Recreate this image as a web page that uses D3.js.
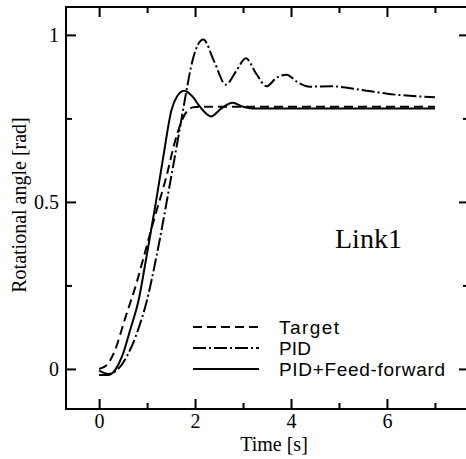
<!DOCTYPE html>
<html>
<head>
<meta charset="utf-8">
<script src="https://cdn.jsdelivr.net/npm/d3@7"></script>
<style>
  body { margin: 0; background: #fff; overflow: hidden; }
  svg { display: block; }
  .axis text { font-family: "Liberation Serif", "Times New Roman", serif; font-size: 20px; fill: #000; }
  .axis line { stroke: #000; stroke-width: 2px; }
  .axis path { display: none; }
  .title { font-family: "Liberation Serif", "Times New Roman", serif; font-size: 20px; fill: #000; }
  .legend text { font-family: "Liberation Sans", Arial, sans-serif; font-size: 19px; fill: #000; }
</style>
</head>
<body>
<div id="chart"></div>
<script>
  // time [s], rotational angle [rad]
  const targetT = [0, 0.15, 0.3, 0.55, 0.79, 0.93, 1.13, 1.41, 1.58, 1.8, 1.95, 2.1, 7.0];
  const targetY = [0, 0.01, 0.045, 0.155, 0.262, 0.335, 0.44, 0.58, 0.68, 0.765, 0.783, 0.785, 0.785];

  const pidT = [0, 0.2, 0.4, 0.58, 0.79, 1.0, 1.2, 1.48, 1.69, 1.8, 1.95, 2.17, 2.4, 2.64, 2.85, 3.06, 3.27, 3.49, 3.7, 3.91, 4.12, 4.4, 4.85, 5.44, 6.0, 7.0];
  const pidY = [-0.005, -0.015, 0.0, 0.038, 0.108, 0.207, 0.34, 0.557, 0.726, 0.816, 0.925, 0.986, 0.92, 0.851, 0.89, 0.93, 0.885, 0.846, 0.872, 0.881, 0.86, 0.845, 0.846, 0.836, 0.824, 0.813];

  const ffT = [0, 0.2, 0.35, 0.48, 0.65, 0.83, 0.965, 1.17, 1.34, 1.51, 1.62, 1.77, 1.95, 2.1, 2.33, 2.55, 2.78, 3.0, 3.2, 7.0];
  const ffY = [-0.018, -0.018, 0.0, 0.038, 0.118, 0.21, 0.317, 0.487, 0.637, 0.776, 0.815, 0.833, 0.815, 0.785, 0.756, 0.78, 0.797, 0.785, 0.78, 0.78];

  const seriesNames = ["Target", "PID", "PID+Feed-forward"];
  const xMajor = [0, 2, 4, 6];
  const xMinor = [1, 3, 5, 7];
  const yMajor = [0, 0.5, 1];
  const yMinor = [0.25, 0.75];

  const margin = {top: 7, right: -3, bottom: 50, left: 66};
  const width = 466 - margin.left - margin.right;
  const height = 459 - margin.top - margin.bottom;

  const svg = d3.select("#chart").append("svg")
    .attr("width", 466)
    .attr("height", 459);

  const g = svg.append("g")
    .attr("transform", "translate(" + margin.left + "," + margin.top + ")");

  const x = d3.scaleLinear().domain([-0.69, 7.71]).range([0, width]);
  const y = d3.scaleLinear().domain([-0.12, 1.0835]).range([height, 0]);

  function axis(gen, dx, dy) {
    return g.append("g").attr("class", "axis")
      .attr("transform", "translate(" + dx + "," + dy + ")")
      .call(gen)
      .attr("font-family", null)
      .attr("font-size", null);
  }

  // ticks point inward on all four sides
  axis(d3.axisBottom(x).tickValues(xMajor).tickSize(-10).tickPadding(5).tickFormat(d3.format("d")), 0, height);
  axis(d3.axisBottom(x).tickValues(xMinor).tickSize(-6).tickFormat(""), 0, height);
  axis(d3.axisTop(x).tickValues(xMajor).tickSize(-10).tickFormat(""), 0, 0);
  axis(d3.axisTop(x).tickValues(xMinor).tickSize(-6).tickFormat(""), 0, 0);

  axis(d3.axisLeft(y).tickValues(yMajor).tickSize(-10).tickPadding(7)
    .tickFormat(d => d === 0.5 ? "0.5" : d3.format("d")(d)), 0, 0);
  axis(d3.axisLeft(y).tickValues(yMinor).tickSize(-6).tickFormat(""), 0, 0);
  axis(d3.axisRight(y).tickValues(yMajor).tickSize(-10).tickFormat(""), width, 0);
  axis(d3.axisRight(y).tickValues(yMinor).tickSize(-6).tickFormat(""), width, 0);

  g.append("rect")
    .attr("width", width)
    .attr("height", height)
    .attr("fill", "none")
    .attr("stroke", "#000")
    .attr("stroke-width", 2);

  const line = d3.line()
    .x(d => x(d[0]))
    .y(d => y(d[1]))
    .curve(d3.curveMonotoneX);

  const series = [
    {name: seriesNames[0], t: targetT, v: targetY, dash: "9,5"},
    {name: seriesNames[1], t: pidT, v: pidY, dash: "13,3,2,3"},
    {name: seriesNames[2], t: ffT, v: ffY, dash: null}
  ];

  series.forEach(function (s) {
    g.append("path")
      .attr("d", line(s.t.map((t, i) => [t, s.v[i]])))
      .attr("fill", "none")
      .attr("stroke", "#000")
      .attr("stroke-width", 2)
      .attr("stroke-dasharray", s.dash);
  });

  // labels
  svg.append("text")
    .attr("class", "title")
    .attr("x", 274)
    .attr("y", 451)
    .attr("text-anchor", "middle")
    .text("Time [s]");

  svg.append("text")
    .attr("class", "title")
    .attr("transform", "translate(26,205) rotate(-90)")
    .attr("text-anchor", "middle")
    .text("Rotational angle [rad]");

  svg.append("text")
    .attr("class", "title")
    .attr("x", 335)
    .attr("y", 248)
    .style("font-size", "28px")
    .text("Link1");

  // legend
  const legend = svg.append("g").attr("class", "legend")
    .attr("transform", "translate(193,327)");
  const textLen = [60, 32, 166];
  series.forEach(function (s, i) {
    const row = legend.append("g").attr("transform", "translate(0," + (i * 21) + ")");
    row.append("line")
      .attr("x1", 0).attr("x2", 66)
      .attr("stroke", "#000")
      .attr("stroke-width", 2)
      .attr("stroke-dasharray", s.dash);
    row.append("text")
      .attr("x", 86)
      .attr("y", 7)
      .attr("textLength", textLen[i])
      .attr("lengthAdjust", "spacing")
      .text(s.name);
  });
</script>
</body>
</html>
